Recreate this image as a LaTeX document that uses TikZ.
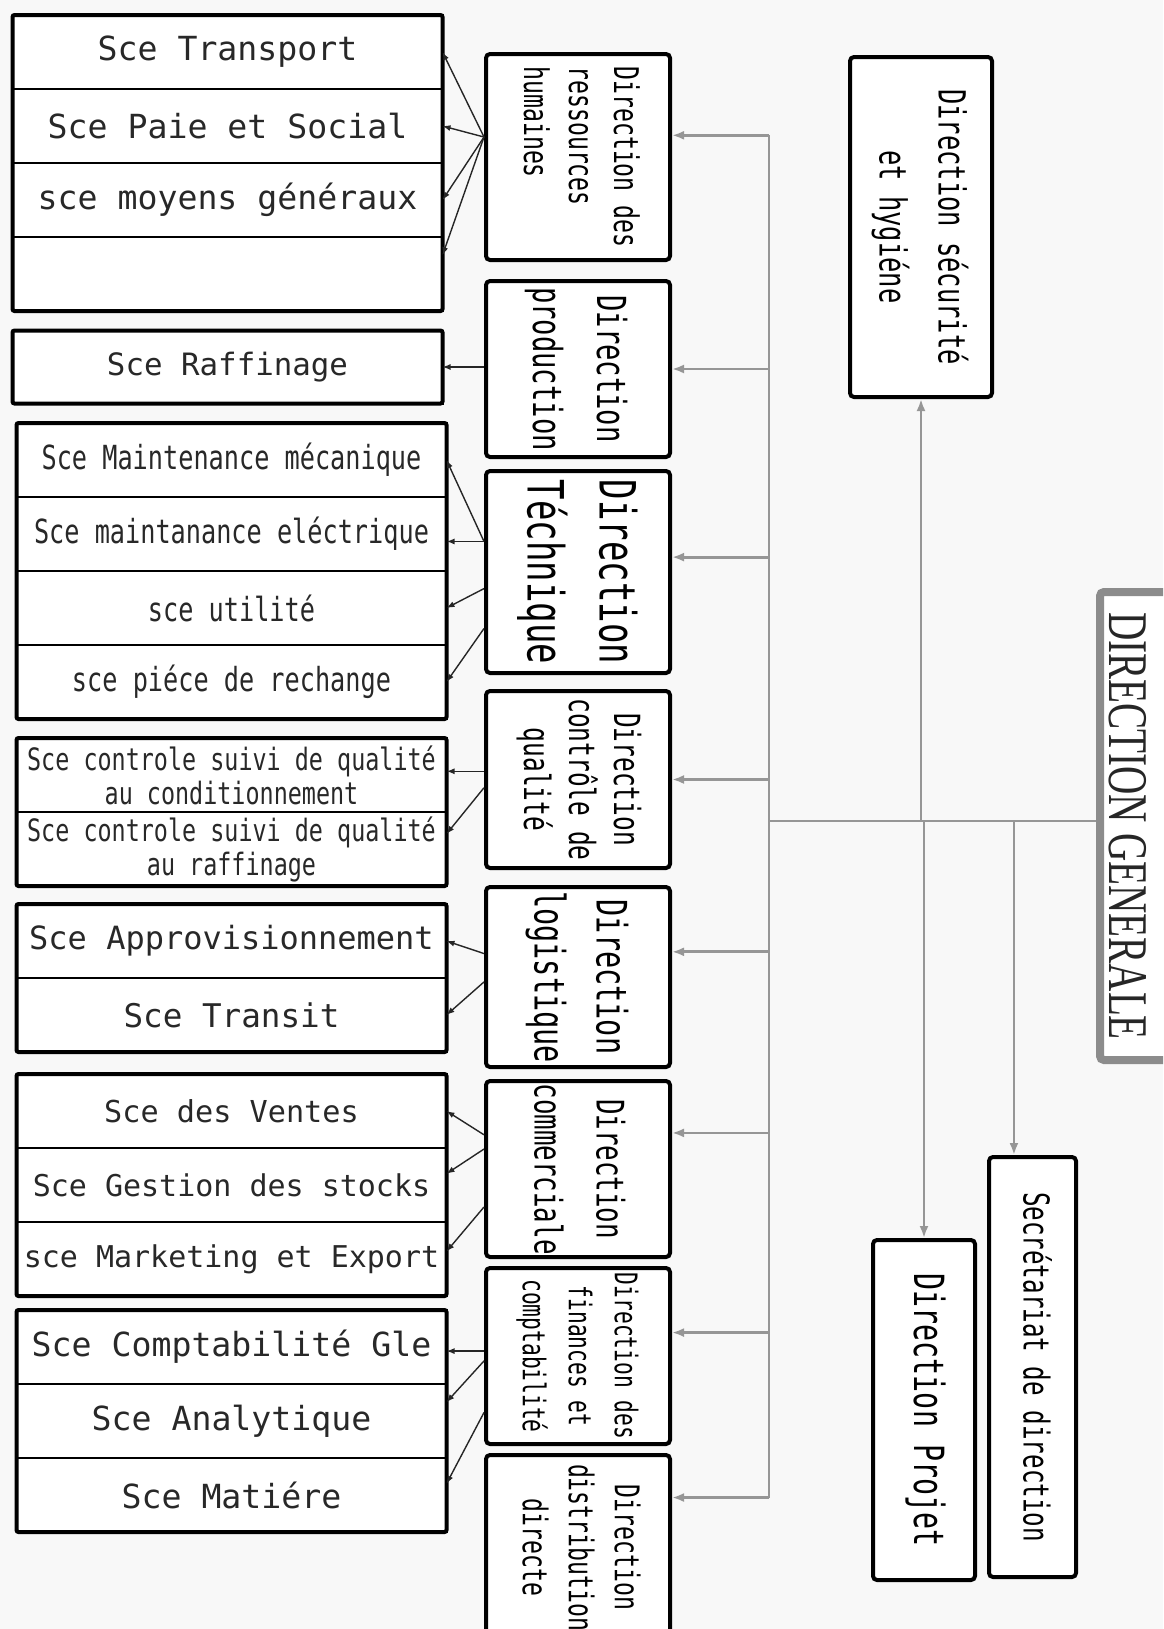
\documentclass[tikz,border=0pt]{standalone}
\usepackage{graphicx}
\usepackage{fontspec}
\setmainfont{Liberation Serif}
\newfontfamily\svcfont{DejaVu Sans Mono}
\newfontfamily\svcnarrowfont[FakeStretch=0.76]{DejaVu Sans Mono}
\newfontfamily\dirfont[FakeStretch=0.68]{DejaVu Sans Mono}
\newfontfamily\dgfont[FakeStretch=0.7]{Liberation Serif}
\usetikzlibrary{arrows.meta,positioning,fit,calc}
\definecolor{PaperGray}{RGB}{248,248,248}
\definecolor{BusGray}{RGB}{150,150,150}
\definecolor{DgGray}{RGB}{140,140,140}
\definecolor{SvcText}{RGB}{40,40,40}
\newcommand{\vlabel}[2][c]{\rotatebox{-90}{\begin{tabular}{@{}#1@{}}#2\end{tabular}}}
\tikzset{
  svc/.style={rectangle, draw=black, line width=1pt, fill=white, minimum width=215pt,
    minimum height=37pt, inner sep=0pt, outer sep=0pt, align=center, text=SvcText,
    font=\svcfont\fontsize{16.6}{20}\selectfont},
  fs/.style={font=\svcfont\fontsize{#1}{20}\selectfont},
  nfs/.style={font=\svcnarrowfont\fontsize{#1}{17}\selectfont},
  grp/.style={rectangle, draw=black, line width=2pt, rounded corners=1pt, inner sep=0pt},
  dirbox/.style={rectangle, draw=black, line width=2pt, rounded corners=2pt, fill=white,
    minimum width=92pt, inner sep=0pt},
  dfont/.style 2 args={font=\dirfont\fontsize{#1}{#2}\selectfont},
  dgbox/.style={rectangle, draw=DgGray, line width=4pt, rounded corners=2pt, fill=white,
    inner sep=0pt, text=black!85, font=\dgfont\fontsize{28}{28}\selectfont},
  svcarrow/.style={-{Latex[length=4pt,width=3pt]}, line width=0.7pt, draw=black!85},
  bus/.style={draw=BusGray, line width=1.4pt},
  busarrow/.style={bus, -{Latex[length=6pt,width=4.5pt]}, BusGray}
}
\begin{document}
\begin{tikzpicture}[x=0.5pt, y=-0.5pt]
  \useasboundingbox (0,0) rectangle (1163,1629);
  \clip (0,0) rectangle (1163,1629);
  \fill[PaperGray] (0,0) rectangle (1163,1629);

  % services
  \node[svc] (r11) at (227.5,52) {Sce Transport};
  \node[svc, below=0pt of r11] (r12) {Sce Paie et Social};
  \node[svc, below=0pt of r12] (r13) {sce moyens généraux};
  \node[svc, below=0pt of r13] (r14) {};
  \node[grp, fit=(r11)(r14)] {};

  \node[svc, fs=15.4, minimum height=36.5pt] (raff) at (227.5,367) {Sce Raffinage};
  \node[grp, fit=(raff)] {};

  \node[svc, nfs=16.6] (r31) at (231.5,460) {Sce Maintenance mécanique};
  \node[svc, nfs=16.6, below=0pt of r31] (r32) {Sce maintanance eléctrique};
  \node[svc, nfs=16.6, below=0pt of r32] (r33) {sce utilité};
  \node[svc, nfs=16.6, below=0pt of r33] (r34) {sce piéce de rechange};
  \node[grp, fit=(r31)(r34)] {};

  \node[svc, nfs=15.4] (r41) at (231.5,775) {Sce controle suivi de qualité\\au conditionnement};
  \node[svc, nfs=15.4, below=0pt of r41] (r42) {Sce controle suivi de qualité\\au raffinage};
  \node[grp, fit=(r41)(r42)] {};

  \node[svc, fs=16] (r51) at (231.5,941) {Sce Approvisionnement};
  \node[svc, fs=16.3, below=0pt of r51] (r52) {Sce Transit};
  \node[grp, fit=(r51)(r52)] {};

  \node[svc, fs=15.1] (r61) at (231.5,1111) {Sce des Ventes};
  \node[svc, fs=15, below=0pt of r61] (r62) {Sce Gestion des stocks};
  \node[svc, fs=15, below=0pt of r62] (r63) {sce Marketing et Export};
  \node[grp, fit=(r61)(r63)] {};

  \node[svc] (r71) at (231.5,1347) {Sce Comptabilité Gle};
  \node[svc, below=0pt of r71] (r72) {Sce Analytique};
  \node[svc, below=0pt of r72] (r73) {Sce Matiére};
  \node[grp, fit=(r71)(r73)] {};

  % directions
  \node[dirbox, minimum height=103pt, dfont={17}{22.5}] (hr) at (578,157) {\vlabel[l]{Direction des\\ressources\\humaines}};
  \node[dirbox, minimum height=88pt, dfont={20}{32}] (prod) at (578,369) {\vlabel{Direction\\production}};
  \node[dirbox, minimum height=101pt, dfont={25}{36}] (tech) at (578,572) {\vlabel{Direction\\Téchnique}};
  \node[dirbox, minimum height=88.5pt, dfont={18}{22.5}] (qual) at (578,779.5) {\vlabel{Direction\\contrôle de\\qualité}};
  \node[dirbox, minimum height=90pt, dfont={21}{31}] (logi) at (578,977) {\vlabel{Direction\\logistique}};
  \node[dirbox, minimum height=88pt, dfont={19}{31}] (comm) at (578,1169) {\vlabel{Direction\\commerciale}};
  \node[dirbox, minimum height=88pt, dfont={15.6}{23}] (fin) at (578,1356) {\vlabel{Direction des\\finances et\\comptabilité}};
  \node[dirbox, minimum height=92.5pt, dfont={17}{23}] (dist) at (578,1547.5) {\vlabel{Direction\\distribution\\directe}};

  \node[dirbox, minimum width=71pt, minimum height=170pt, dfont={18.7}{29.5}] (secu) at (921,227) {\vlabel{Direction sécurité\\et hygiéne}};
  \node[dirbox, minimum width=51pt, minimum height=170pt, dfont={20.8}{25}] (proj) at (924,1410) {\vlabel{Direction Projet}};
  \node[dirbox, minimum width=43.5pt, minimum height=210pt, dfont={17.8}{22}] (secr) at (1032.5,1367) {\vlabel{Secrétariat de direction}};
  \node[dgbox, minimum width=36pt, minimum height=234pt] (dg) at (1136,826) {\hspace*{-15pt}\vlabel{DIRECTION GENERALE}};

  % liaisons generales
  \coordinate (bus) at (769,821);
  \draw[bus] (hr.13 -| bus) -- (dist.28 -| bus);
  \draw[bus] (bus) -- (bus -| dg.west);
  \draw[busarrow] (hr.13 -| bus) -- (hr.13);
  \draw[busarrow] (prod.east -| bus) -- (prod.east);
  \draw[busarrow] (tech.9 -| bus) -- (tech.9);
  \draw[busarrow] (qual.east -| bus) -- (qual.east);
  \draw[busarrow] (logi.15 -| bus) -- (logi.15);
  \draw[busarrow] (comm.21 -| bus) -- (comm.21);
  \draw[busarrow] (fin.14 -| bus) -- (fin.14);
  \draw[busarrow] (dist.28 -| bus) -- (dist.28);
  \draw[busarrow] (secu.south |- bus) -- (secu.south);
  \draw[busarrow] (proj.north |- bus) -- (proj.north);
  \draw[busarrow] (secr.95 |- bus) -- (secr.95);

  % directions -> services
  \draw[svcarrow] (hr.168) -- (r11.east);
  \draw[svcarrow] (hr.168) -- (r12.east);
  \draw[svcarrow] (hr.168) -- (r13.east);
  \draw[svcarrow] (hr.168) -- (r14.5);
  \draw[svcarrow] (prod.west |- raff.east) -- (raff.east);
  \draw[svcarrow] (tech.162) -- (r31.east);
  \draw[svcarrow] (tech.162) -- (tech.162 -| r32.east);
  \draw[svcarrow] (tech.190) -- (r33.east);
  \draw[svcarrow] (tech.211) -- (r34.east);
  \draw[svcarrow] (qual.175) -- (qual.175 -| r41.east);
  \draw[svcarrow] (qual.185) -- (r42.4);
  \draw[svcarrow] (logi.166) -- (r51.east);
  \draw[svcarrow] (logi.183) -- (r52.east);
  \draw[svcarrow] (comm.160) -- (r61.east);
  \draw[svcarrow] (comm.168) -- (r62.3);
  \draw[svcarrow] (comm.202) -- (r63.2);
  \draw[svcarrow] (fin.177) -- (fin.177 -| r71.east);
  \draw[svcarrow] (fin.183) -- (r72.5);
  \draw[svcarrow] (fin.211) -- (r73.3);
\end{tikzpicture}
\end{document}
